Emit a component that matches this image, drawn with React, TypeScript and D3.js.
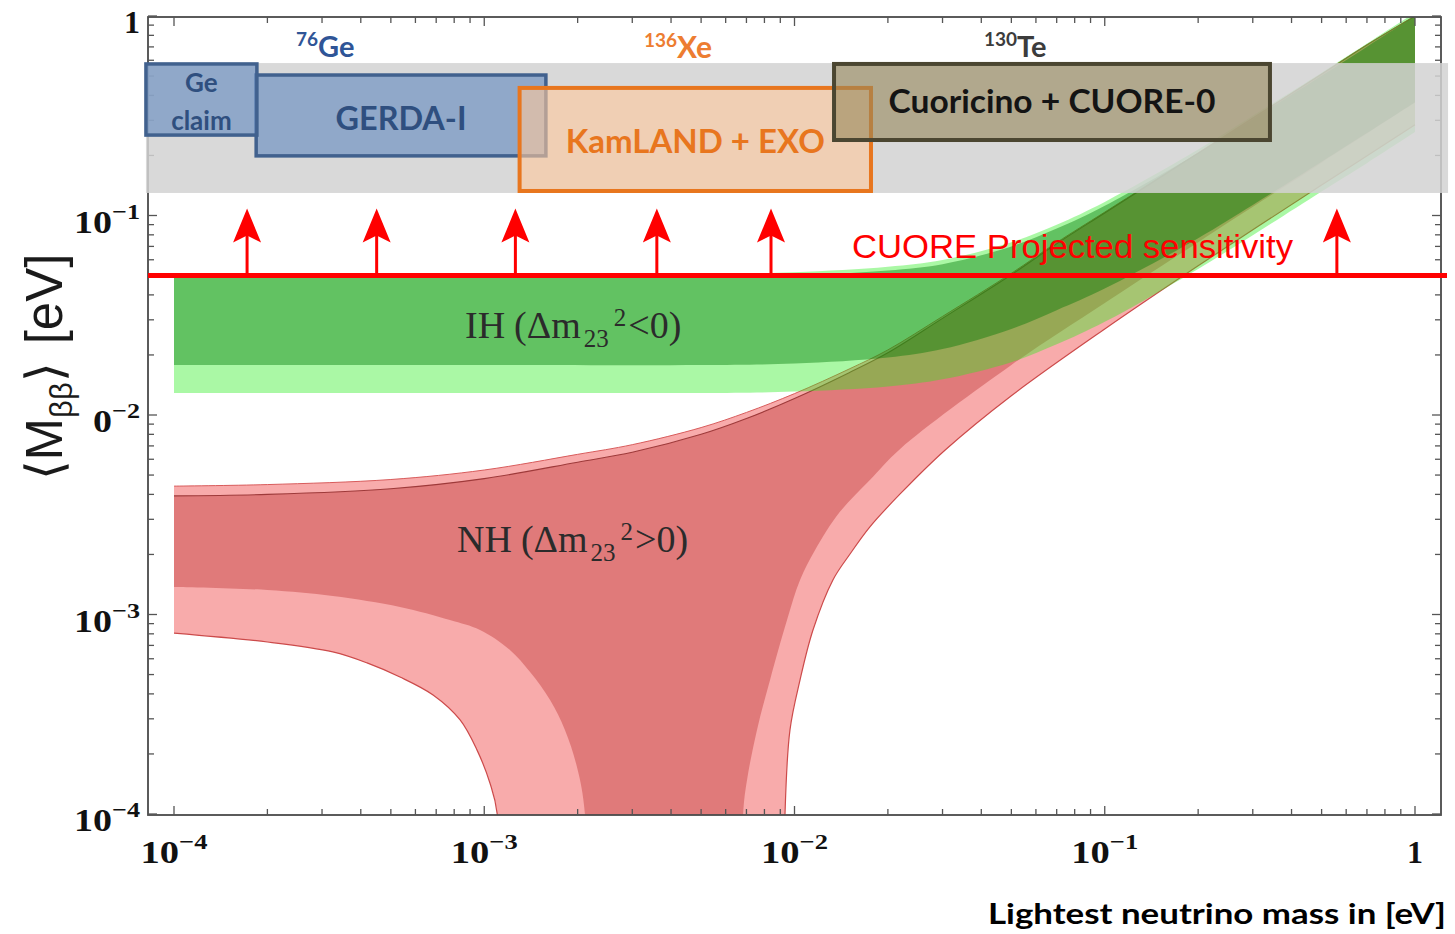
import React from 'react';
import * as d3 from 'd3';

const W = 1455;
const H = 934;

// lightest neutrino mass samples [eV] for the inverted hierarchy
const ihMass = [1e-4, 1e-3, 5e-3, 1e-2, 2e-2, 3e-2, 5e-2, 7e-2, 0.1, 0.2, 0.3, 0.5, 0.7, 1];
const ih1Upper = [0.049, 0.049, 0.0493, 0.05, 0.053, 0.057, 0.07, 0.086, 0.112, 0.206, 0.304, 0.502, 0.702, 1.0];
const ih1Lower = [0.0178, 0.0178, 0.0178, 0.0181, 0.0194, 0.0214, 0.027, 0.0335, 0.043, 0.077, 0.113, 0.186, 0.259, 0.37];
const ih3Upper = [0.051, 0.051, 0.0513, 0.052, 0.0553, 0.0598, 0.0735, 0.09, 0.117, 0.214, 0.316, 0.52, 0.727, 1.04];
const ih3Lower = [0.0129, 0.0129, 0.0129, 0.0131, 0.0139, 0.0151, 0.0184, 0.0226, 0.0293, 0.054, 0.0797, 0.132, 0.183, 0.262];

// normal hierarchy, upper edges
const nhMass = [1e-4, 2e-4, 5e-4, 1e-3, 2e-3, 3e-3, 5e-3, 7e-3, 1e-2, 1.5e-2, 2e-2, 3e-2, 5e-2, 7e-2, 0.1, 0.2, 0.3, 0.5, 0.7, 1];
const nh1Upper = [3.93e-3, 4.0e-3, 4.27e-3, 4.8e-3, 5.8e-3, 6.5e-3, 8.0e-3, 9.6e-3, 0.0121, 0.0163, 0.0205, 0.0305, 0.0505, 0.0722, 0.103, 0.205, 0.307, 0.511, 0.716, 1.0];
const nh3Upper = [4.4e-3, 4.48e-3, 4.75e-3, 5.3e-3, 6.35e-3, 7.1e-3, 8.65e-3, 0.0103, 0.0128, 0.017, 0.0212, 0.0312, 0.0513, 0.0732, 0.104, 0.206, 0.308, 0.512, 0.717, 1.0];

// normal hierarchy, lower edge right of the cancellation funnel (mass descending)
const nh1LowRightM = [1, 0.5, 0.2, 0.1, 0.05, 0.0219, 0.0175, 0.01401, 0.01164, 0.01042, 0.00946, 0.00834, 0.00757, 0.00703, 0.00683, 0.00675];
const nh1LowRightV = [0.368, 0.184, 0.0735, 0.0364, 0.0178, 0.00676, 0.00472, 0.00327, 0.0021, 0.00149, 0.000938, 0.00047, 0.000264, 0.000148, 0.0001, 0.00001];
const nh3LowRightM = [1, 0.5, 0.2, 0.1, 0.05, 0.0306, 0.0219, 0.0175, 0.0151, 0.0133, 0.01147, 0.01042, 0.00967, 0.00932, 0.0092];
const nh3LowRightV = [0.285, 0.142, 0.056, 0.027, 0.0125, 0.00668, 0.00402, 0.00275, 0.00201, 0.00149, 0.000836, 0.00047, 0.000264, 0.0001, 0.00001];

// normal hierarchy, lower edge left of the funnel (mass ascending)
const nh1LowLeftM = [1e-4, 2e-4, 3.25e-4, 5.35e-4, 7.75e-4, 9.69e-4, 1.21e-3, 1.405e-3, 1.63e-3, 1.82e-3, 1.99e-3, 2.11e-3, 2.13e-3];
const nh1LowLeftV = [1.374e-3, 1.327e-3, 1.238e-3, 1.091e-3, 9.38e-4, 8.36e-4, 6.64e-4, 5.15e-4, 3.73e-4, 2.64e-4, 1.72e-4, 1.01e-4, 1e-5];
const nh3LowLeftM = [1e-4, 2e-4, 3.25e-4, 4.19e-4, 5.35e-4, 6.84e-4, 8.36e-4, 9.48e-4, 1.043e-3, 1.1e-3, 1.11e-3];
const nh3LowLeftV = [8.07e-4, 7.28e-4, 6.49e-4, 5.72e-4, 4.86e-4, 3.95e-4, 2.96e-4, 2.09e-4, 1.43e-4, 1.01e-4, 1e-5];

// experimental limits: [mass from, mass to, Mbb from, Mbb to]
const grayBand = [8.12e-5, 1.278, 0.1297, 0.581];
const geClaim = [8.12e-5, 1.85e-4, 0.253, 0.575];
const gerda = [1.84e-4, 1.58e-3, 0.199, 0.506];
const kamland = [1.3e-3, 1.764e-2, 0.1327, 0.436];
const cuoricino = [0.01341, 0.3408, 0.239, 0.575];

const cuoreSensitivity = 0.05;
const arrowMass = [1.72e-4, 4.5e-4, 1.26e-3, 3.6e-3, 8.4e-3, 0.56];

const xTickLabels = [
  { v: 1e-4, exp: '−4' },
  { v: 1e-3, exp: '−3' },
  { v: 1e-2, exp: '−2' },
  { v: 1e-1, exp: '−1' },
  { v: 1, exp: '' },
];
const yTickLabels = [
  { v: 1, exp: '' },
  { v: 1e-1, exp: '−1' },
  { v: 1e-2, exp: '−2' },
  { v: 1e-3, exp: '−3' },
  { v: 1e-4, exp: '−4' },
];

const SANS = "'Liberation Sans', Arial, sans-serif";
const SERIF = "'Liberation Serif', 'Times New Roman', serif";
const CAL = "Lato, 'Open Sans', sans-serif";

const x = d3.scaleLog().domain([1e-4, 1]).range([174, 1415]);
const y = d3.scaleLog().domain([1e-4, 1]).range([814, 16]);

type P = [number, number];
const zip = (ms: number[], vs: number[]): P[] => ms.map((m, i) => [m, vs[i]] as P);
const line = d3.line<P>().x(d => x(d[0])).y(d => y(d[1])).curve(d3.curveCatmullRom.alpha(0.5));
const poly = (...parts: P[][]) =>
  parts.map((p, i) => { const s = line(p) as string; return i ? 'L' + s.slice(1) : s; }).join('') + 'Z';

const frame = { l: x(1e-4) - 26, r: x(1) + 26, t: y(1) + 1, b: y(1e-4) + 1 };

const tickVals = [-4, -3, -2, -1].flatMap(k => d3.range(1, 10).map(j => j * Math.pow(10, k))).concat([1]);
const isMajor = (v: number) => Math.abs(Math.log10(v) - Math.round(Math.log10(v))) < 1e-6;

const rectOf = (b: number[]) => ({ x: x(b[0]), y: y(b[3]), width: x(b[1]) - x(b[0]), height: y(b[2]) - y(b[3]) });

const HierLabel = ({ x0, y0, name, rel }: { x0: number; y0: number; name: string; rel: string }) => (
  <text x={x0} y={y0} fontSize={38}>
    <tspan>{name}</tspan>
    <tspan dx={9}>(Δm</tspan>
    <tspan dx={3} dy={9} fontSize={25}>23</tspan>
    <tspan dx={5} dy={-21} fontSize={25}>2</tspan>
    <tspan dx={2} dy={12}>{rel}0)</tspan>
  </text>
);

export default function App() {
  const nh3 = poly(zip(nhMass, nh3Upper), zip(nh3LowRightM, nh3LowRightV), zip(nh3LowLeftM, nh3LowLeftV).reverse());
  const nh1 = poly(zip(nhMass, nh1Upper), zip(nh1LowRightM, nh1LowRightV), zip(nh1LowLeftM, nh1LowLeftV).reverse());
  const ih3 = poly(zip(ihMass, ih3Upper), zip(ihMass, ih3Lower).reverse());
  const ih1 = poly(zip(ihMass, ih1Upper), zip(ihMass, ih1Lower).reverse());

  const yS = y(cuoreSensitivity);
  const tipY = yS - 67;

  const gb = rectOf(grayBand);
  const ge = rectOf(geClaim);
  const gd = rectOf(gerda);
  const kl = rectOf(kamland);
  const cu = rectOf(cuoricino);

  return (
    <div style={{ position: 'absolute', left: 0, top: 0 }}>
      <svg width={W} height={H} viewBox={`0 0 ${W} ${H}`} style={{ display: 'block', background: '#fff' }}>
        <defs>
          <clipPath id="plotClip">
            <rect x={frame.l} y={frame.t} width={frame.r - frame.l} height={frame.b - frame.t} />
          </clipPath>
        </defs>
        <rect x={0} y={0} width={W} height={H} fill="#fff" />

        {/* bands */}
        <g clipPath="url(#plotClip)">
          <path d={nh3} fill="#f8abab" />
          <path d={nh1} fill="#e07a7a" />
          <path d={line(zip(nh3LowLeftM, nh3LowLeftV)) as string} fill="none" stroke="#cc4a4a" strokeWidth={1.2} />
          <path d={line(zip(nh3LowRightM, nh3LowRightV)) as string} fill="none" stroke="#cc4a4a" strokeWidth={1.2} />
          <path d={line(zip(nhMass, nh3Upper)) as string} fill="none" stroke="#d85c5c" strokeWidth={1} />
          <path d={line(zip(nhMass, nh1Upper)) as string} fill="none" stroke="#9e3a3a" strokeWidth={1.1} />
          <path d={ih3} fill="rgb(42,237,30)" fillOpacity={0.4} />
          <path d={ih1} fill="rgb(0,118,4)" fillOpacity={0.42} />
        </g>

        {/* frame and ticks */}
        <rect x={frame.l} y={frame.t} width={frame.r - frame.l} height={frame.b - frame.t} fill="none" stroke="#4a4a4a" strokeWidth={1.8} />
        <g stroke="#555" strokeWidth={1.3}>
          {tickVals.map(v => {
            const len = isMajor(v) ? 9 : 6;
            return (
              <g key={'t' + v}>
                <line x1={x(v)} x2={x(v)} y1={frame.b} y2={frame.b - len} />
                <line x1={x(v)} x2={x(v)} y1={frame.t} y2={frame.t + len} />
                <line x1={frame.l} x2={frame.l + len} y1={y(v)} y2={y(v)} />
                <line x1={frame.r} x2={frame.r - len} y1={y(v)} y2={y(v)} />
              </g>
            );
          })}
        </g>

        {/* CUORE sensitivity */}
        <line x1={frame.l} x2={1447} y1={yS} y2={yS} stroke="#ff0000" strokeWidth={5} />
        {arrowMass.map(m => {
          const ax = x(m);
          return (
            <g key={'a' + m}>
              <line x1={ax} x2={ax} y1={yS} y2={tipY + 24} stroke="#ff0000" strokeWidth={3} />
              <path d={`M${ax},${tipY} L${ax + 14},${tipY + 34} L${ax},${tipY + 27} L${ax - 14},${tipY + 34} Z`} fill="#ff0000" />
            </g>
          );
        })}
        <text x={852} y={258} fontFamily={SANS} fontSize={34} fill="#ff0000" textLength={441} lengthAdjust="spacingAndGlyphs">
          CUORE Projected sensitivity
        </text>

        {/* excluded region */}
        <rect {...gb} fill="rgb(210,210,210)" fillOpacity={0.85} />

        <rect {...gd} fill="rgb(95,135,190)" fillOpacity={0.6} stroke="#41618e" strokeWidth={3.5} />
        <rect {...ge} fill="rgb(95,135,190)" fillOpacity={0.6} stroke="#41618e" strokeWidth={3.5} />
        <rect {...kl} fill="rgb(255,200,155)" fillOpacity={0.6} stroke="#e8761e" strokeWidth={4} />
        <rect {...cu} fill="rgb(150,135,90)" fillOpacity={0.6} stroke="#4b4631" strokeWidth={4} />

        <g fontFamily={CAL} fontWeight="bold" textAnchor="middle">
          <text x={ge.x + ge.width / 2} y={92} fontSize={26} fill="#2f4f7f">Ge</text>
          <text x={ge.x + ge.width / 2} y={130} fontSize={26} fill="#2f4f7f">claim</text>
          <text x={gd.x + gd.width / 2} y={130} fontSize={32} fill="#2f4f7f" textLength={131} lengthAdjust="spacingAndGlyphs">GERDA-I</text>
          <text x={kl.x + kl.width / 2} y={153} fontSize={32} fill="#e8761e" textLength={259} lengthAdjust="spacingAndGlyphs">KamLAND + EXO</text>
          <text x={cu.x + cu.width / 2} y={113} fontSize={32} fill="#141414" textLength={327} lengthAdjust="spacingAndGlyphs">Cuoricino + CUORE-0</text>
        </g>

        {/* isotopes */}
        <g fontFamily={CAL} fontWeight="bold">
          <text x={296} y={57} fill="#2f5597">
            <tspan fontSize={19} dy={-11}>76</tspan>
            <tspan fontSize={29} dy={11}>Ge</tspan>
          </text>
          <text x={644} y={58} fill="#ed7d31">
            <tspan fontSize={19} dy={-11}>136</tspan>
            <tspan fontSize={30} dy={11}>Xe</tspan>
          </text>
          <text x={984} y={57} fill="#3c3c3c">
            <tspan fontSize={19} dy={-11}>130</tspan>
            <tspan fontSize={29} dy={11}>Te</tspan>
          </text>
        </g>

        {/* hierarchy labels */}
        <g fontFamily={SERIF} fill="#2b2b2b">
          <HierLabel x0={465} y0={338} name="IH" rel="<" />
          <HierLabel x0={457} y0={552} name="NH" rel=">" />
        </g>

        {/* tick labels */}
        <g fontFamily={SERIF} fontWeight="bold" fill="#111">
          {xTickLabels.map(t => (
            t.exp ? (
              <text key={'xl' + t.v} x={x(t.v)} y={863} textAnchor="middle" fontSize={32} textLength={67} lengthAdjust="spacingAndGlyphs">
                <tspan>10</tspan>
                <tspan fontSize={22} dy={-14}>{t.exp}</tspan>
              </text>
            ) : (
              <text key={'xl' + t.v} x={x(t.v)} y={863} textAnchor="middle" fontSize={32}>1</text>
            )
          ))}
          {yTickLabels.map(t => (
            t.exp ? (
              <text key={'yl' + t.v} x={140} y={y(t.v) + 17} textAnchor="end" fontSize={32} textLength={66} lengthAdjust="spacingAndGlyphs">
                <tspan>10</tspan>
                <tspan fontSize={22} dy={-14}>{t.exp}</tspan>
              </text>
            ) : (
              <text key={'yl' + t.v} x={140} y={y(t.v) + 17} textAnchor="end" fontSize={32}>1</text>
            )
          ))}
        </g>

        {/* y axis title */}
        <rect x={0} y={240} width={92} height={255} fill="#fff" />
        <text transform="translate(62,367) rotate(-90)" textAnchor="middle" fontFamily={SANS} fontSize={51} fill="#1a1a1a">
          <tspan>⟨M</tspan>
          <tspan fontSize={31} dy={10}>ββ</tspan>
          <tspan dy={-10}>⟩</tspan>
          <tspan dx={18}>[eV]</tspan>
        </text>

        {/* x axis title */}
        <text x={988} y={924} fontFamily={CAL} fontWeight="bold" fontSize={29} fill="#000" textLength={458} lengthAdjust="spacingAndGlyphs">
          Lightest neutrino mass in [eV]
        </text>
      </svg>
    </div>
  );
}
